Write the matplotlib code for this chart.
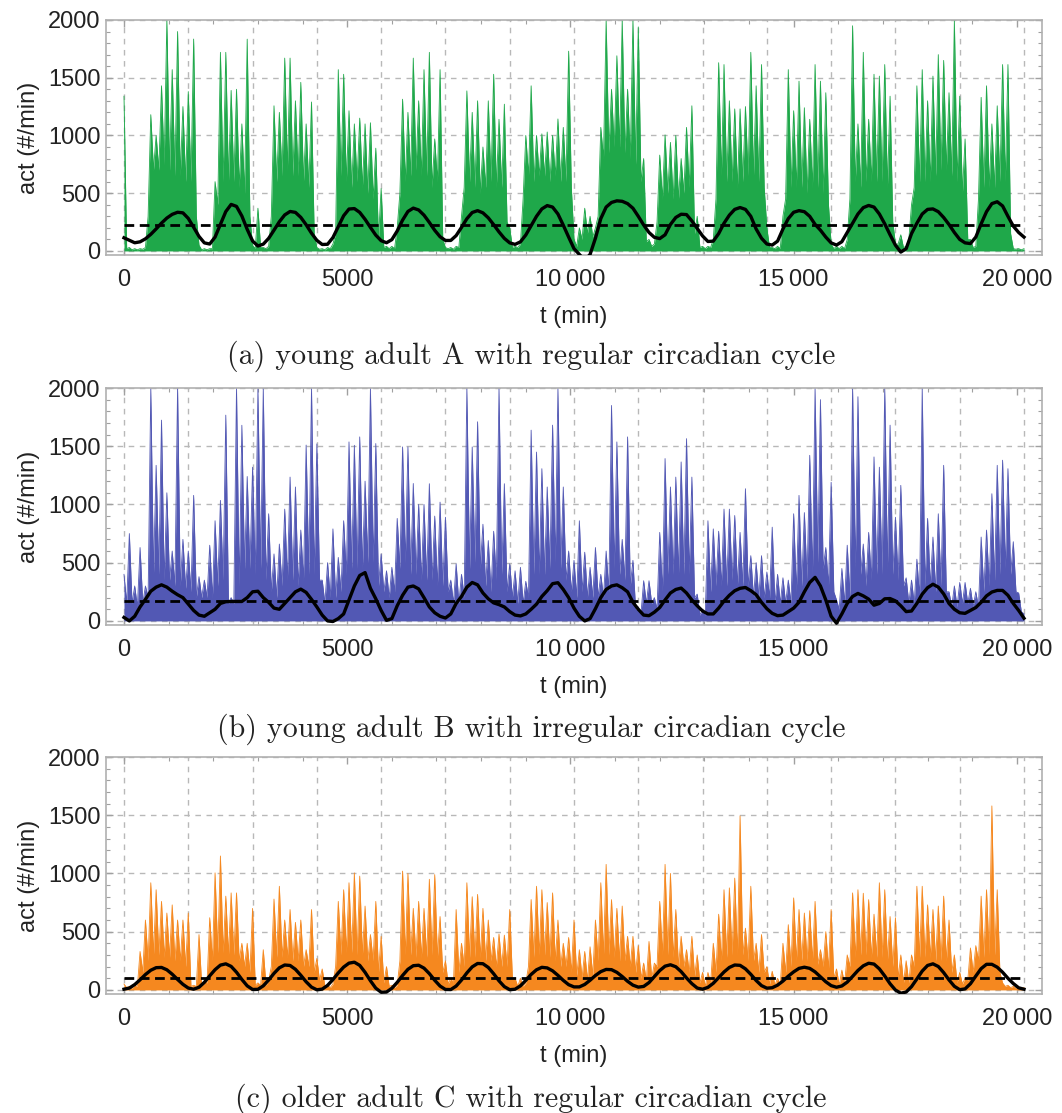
import numpy as np
import matplotlib
matplotlib.use("Agg")
import matplotlib.pyplot as plt
from matplotlib.ticker import MultipleLocator, FixedLocator

STEP = 120        # minutes between activity peaks; troughs sit halfway
DAY = 1440
T_END = 20160

# activity peaks (counts/min), one row per day, 12 samples a day
act_a = [
    1340, 30, 20, 20, 30, 1180, 1000, 1430, 2000, 1570, 1900, 1250,
    1380, 1835, 50, 20, 20, 600, 1720, 1720, 1390, 1400, 1100, 1834,
    50, 370, 30, 40, 1257, 1200, 1670, 1670, 1300, 1460, 1100, 1290,
    30, 20, 30, 60, 1570, 1530, 1214, 1100, 1150, 1100, 1110, 890,
    540, 40, 40, 200, 1314, 1200, 1670, 1300, 1570, 1720, 970, 1570,
    30, 30, 40, 300, 1386, 1200, 1300, 900, 1300, 1530, 1140, 1271,
    200, 40, 60, 1000, 1430, 1000, 1014, 1030, 1000, 1143, 1070, 1730,
    100, 200, 370, 300, 200, 1070, 2000, 1400, 1690, 2000, 1400, 2000,
    1940, 800, 100, 60, 830, 1005, 940, 1000, 800, 1070, 1257, 300,
    40, 40, 100, 1630, 1614, 1300, 1230, 1230, 1250, 1720, 1430, 1614,
    200, 30, 40, 300, 1570, 1214, 1470, 1240, 1140, 1614, 1470, 1370,
    60, 40, 40, 100, 1950, 1100, 1720, 1140, 1530, 1514, 1614, 1340,
    60, 140, 40, 400, 1430, 1570, 1300, 1514, 1700, 1650, 1370, 2000,
    1340, 970, 100, 40, 1330, 1430, 1100, 1257, 1614, 1614, 20, 20,
    20,
]
act_b = [
    400, 750, 300, 630, 300, 2000, 1336, 1724, 1100, 600, 2000, 700,
    600, 1078, 380, 350, 650, 860, 1035, 1767, 200, 2000, 1680, 1240,
    1320, 2000, 2000, 920, 575, 660, 960, 1235, 1150, 780, 1510, 2000,
    1520, 350, 500, 790, 545, 860, 1537, 1508, 1580, 1200, 2000, 1523,
    575, 430, 460, 880, 1494, 1494, 1180, 1000, 1000, 1178, 900, 1020,
    890, 350, 490, 400, 2000, 1494, 1710, 830, 690, 770, 2000, 1178,
    490, 430, 460, 340, 1638, 1450, 1307, 1150, 1681, 2000, 1150, 600,
    520, 860, 590, 460, 630, 400, 600, 1850, 1537, 700, 1580, 520,
    120, 345, 345, 200, 760, 1394, 1150, 1235, 1365, 1565, 1235, 230,
    100, 860, 790, 770, 960, 960, 905, 760, 1135, 560, 500, 560,
    420, 805, 400, 370, 350, 920, 1078, 930, 1422, 2000, 1900, 630,
    1190, 180, 450, 650, 2000, 1925, 660, 760, 1408, 1320, 2000, 1681,
    890, 1164, 370, 350, 530, 2000, 880, 720, 920, 1336, 250, 300,
    330, 330, 280, 250, 720, 780, 1092, 1336, 1380, 1307, 680, 240,
    60,
]
act_c = [
    50, 30, 40, 330, 600, 920, 860, 760, 660, 730, 600, 600,
    660, 40, 475, 80, 620, 1005, 1150, 805, 833, 833, 400, 400,
    700, 60, 345, 80, 780, 890, 600, 690, 580, 600, 345, 690,
    270, 180, 40, 50, 760, 860, 920, 1005, 977, 720, 475, 760,
    460, 200, 40, 40, 1020, 1000, 700, 760, 700, 950, 990, 630,
    250, 100, 690, 400, 920, 800, 820, 700, 600, 450, 480, 470,
    690, 100, 100, 60, 776, 890, 860, 750, 833, 600, 400, 450,
    600, 345, 330, 370, 600, 920, 1078, 775, 700, 720, 460, 460,
    380, 230, 416, 230, 760, 1078, 1000, 690, 460, 345, 460, 300,
    150, 150, 400, 650, 860, 876, 960, 1494, 530, 890, 400, 475,
    200, 160, 100, 400, 560, 790, 690, 660, 680, 760, 345, 500,
    690, 180, 170, 300, 833, 860, 830, 775, 650, 920, 860, 630,
    620, 300, 250, 300, 890, 890, 730, 690, 720, 805, 600, 300,
    150, 100, 360, 380, 805, 860, 1580, 860, 60, 40, 30, 20,
    20,
]

# troughs between consecutive peaks (60 min after each peak)
low_a = [
    20, 10, 10, 15, 300, 700, 700, 750, 700, 650, 650, 600,
    600, 300, 10, 10, 20, 400, 600, 600, 600, 550, 500, 300,
    20, 30, 20, 300, 600, 650, 700, 650, 650, 600, 550, 150,
    15, 10, 20, 150, 650, 600, 550, 600, 550, 500, 450, 100,
    30, 20, 20, 500, 600, 650, 700, 650, 650, 550, 600, 100,
    20, 15, 30, 550, 600, 550, 500, 550, 600, 550, 550, 250,
    30, 30, 450, 650, 600, 650, 650, 600, 650, 600, 600, 550,
    40, 100, 150, 120, 300, 800, 850, 900, 900, 850, 800, 750,
    600, 80, 40, 250, 450, 500, 450, 450, 500, 550, 150, 30,
    20, 30, 450, 650, 600, 600, 550, 600, 650, 650, 600, 550,
    30, 20, 20, 450, 550, 550, 550, 500, 550, 550, 500, 400,
    20, 20, 20, 450, 600, 550, 600, 600, 600, 600, 550, 250,
    60, 30, 100, 550, 600, 600, 600, 650, 700, 700, 650, 600,
    500, 100, 30, 450, 550, 550, 550, 600, 600, 150, 15, 10,
]
low_b = [
    150, 150, 120, 150, 200, 400, 400, 350, 350, 300, 300, 280,
    250, 200, 200, 200, 200, 300, 350, 150, 150, 300, 450, 450,
    400, 450, 350, 250, 200, 300, 350, 350, 300, 350, 400, 400,
    350, 150, 200, 200, 250, 400, 450, 450, 450, 500, 500, 300,
    250, 200, 250, 450, 500, 400, 400, 350, 350, 350, 300, 300,
    250, 150, 150, 200, 450, 500, 450, 300, 250, 350, 400, 250,
    200, 150, 150, 200, 400, 400, 400, 450, 500, 450, 350, 250,
    200, 250, 200, 200, 200, 200, 250, 450, 400, 350, 300, 100,
    60, 150, 150, 100, 250, 400, 400, 400, 400, 400, 200, 50,
    50, 250, 300, 300, 300, 350, 300, 300, 300, 200, 200, 200,
    200, 150, 150, 150, 150, 250, 300, 350, 400, 500, 450, 300,
    250, 100, 150, 200, 450, 400, 300, 350, 400, 400, 450, 400,
    350, 300, 150, 150, 200, 300, 300, 250, 300, 250, 120, 120,
    150, 150, 120, 120, 250, 300, 350, 400, 450, 400, 250, 80,
]
low_c = [
    20, 15, 30, 150, 250, 300, 300, 280, 280, 250, 250, 200,
    30, 30, 40, 60, 250, 320, 320, 300, 300, 250, 200, 150,
    40, 40, 40, 200, 280, 280, 280, 250, 250, 200, 200, 150,
    80, 30, 20, 200, 300, 320, 320, 300, 300, 250, 250, 150,
    60, 30, 20, 250, 300, 300, 280, 280, 280, 300, 280, 150,
    50, 60, 150, 200, 280, 280, 280, 250, 250, 200, 200, 200,
    100, 30, 30, 200, 280, 300, 300, 280, 250, 200, 200, 150,
    120, 100, 80, 120, 250, 300, 300, 280, 250, 250, 200, 150,
    100, 80, 100, 200, 300, 300, 280, 200, 200, 150, 120, 60,
    30, 60, 150, 250, 280, 300, 300, 300, 250, 250, 150, 150,
    50, 40, 40, 150, 200, 250, 250, 250, 250, 220, 200, 180,
    100, 40, 50, 200, 280, 300, 300, 280, 280, 280, 250, 200,
    100, 60, 60, 200, 280, 280, 280, 250, 250, 250, 150, 60,
    50, 80, 150, 250, 280, 300, 300, 150, 30, 20, 15, 10,
]

# smoothed circadian fit on the peak grid
trend_a = [
    114, 93, 71, 79, 105, 144, 191, 241, 285, 317, 335, 330,
    282, 205, 126, 70, 60, 120, 230, 341, 403, 386, 303, 187,
    86, 43, 59, 109, 180, 253, 312, 342, 334, 291, 227, 154,
    92, 56, 58, 116, 211, 305, 363, 367, 334, 274, 204, 137,
    89, 71, 98, 173, 267, 342, 371, 355, 310, 247, 179, 123,
    91, 91, 133, 204, 279, 333, 349, 330, 287, 228, 165, 109,
    70, 57, 79, 138, 219, 300, 364, 393, 380, 320, 223, 120,
    20, -30, -80, -30, 110, 280, 380, 420, 434, 430, 410, 370,
    300, 225, 160, 118, 107, 140, 229, 290, 318, 315, 260, 195,
    130, 82, 85, 150, 240, 310, 360, 376, 360, 300, 190, 110,
    60, 51, 85, 190, 280, 335, 349, 340, 300, 230, 180, 120,
    70, 51, 80, 160, 240, 320, 375, 394, 380, 320, 235, 140,
    50, -10, 20, 150, 240, 320, 360, 364, 340, 290, 229, 160,
    100, 70, 64, 120, 235, 340, 410, 426, 390, 300, 215, 160,
    120,
]
trend_b = [
    30, 0, 40, 120, 185, 255, 290, 310, 290, 255, 225, 200,
    145, 90, 50, 40, 70, 100, 150, 165, 167, 167, 167, 200,
    250, 255, 200, 160, 110, 100, 150, 200, 250, 273, 245, 185,
    120, 50, 0, -5, 20, 60, 180, 300, 390, 415, 280, 190,
    90, 5, 20, 130, 220, 290, 300, 275, 200, 120, 70, 40,
    25, 60, 150, 210, 290, 330, 310, 240, 190, 155, 140, 120,
    80, 50, 43, 60, 100, 144, 210, 260, 320, 328, 270, 200,
    110, 40, 0, 20, 105, 200, 270, 300, 310, 285, 250, 160,
    100, 50, 45, 75, 115, 180, 240, 270, 282, 240, 180, 130,
    85, 60, 60, 110, 170, 220, 259, 280, 287, 260, 225, 160,
    105, 65, 45, 50, 80, 110, 160, 250, 330, 374, 300, 180,
    40, -20, 60, 150, 210, 236, 215, 187, 135, 150, 190, 192,
    172, 130, 80, 85, 150, 230, 285, 315, 290, 232, 150, 100,
    70, 65, 90, 115, 160, 215, 248, 262, 262, 220, 150, 90,
    23,
]
trend_c = [
    6, 16, 46, 87, 132, 169, 191, 193, 173, 135, 90, 48,
    16, 6, 23, 65, 121, 174, 213, 224, 202, 152, 90, 35,
    4, 5, 35, 85, 142, 190, 214, 210, 177, 126, 70, 24,
    1, 7, 39, 89, 146, 196, 230, 238, 211, 151, 79, 15,
    -20, -18, 14, 65, 124, 177, 208, 212, 187, 140, 83, 33,
    4, 3, 33, 85, 146, 198, 227, 225, 193, 139, 78, 28,
    2, 6, 35, 82, 133, 173, 194, 189, 164, 125, 82, 45,
    26, 26, 47, 83, 124, 157, 176, 174, 151, 115, 74, 41,
    24, 30, 63, 114, 166, 204, 216, 199, 157, 103, 54, 16,
    6, 22, 57, 106, 154, 193, 214, 211, 181, 134, 81, 37,
    15, 19, 41, 76, 118, 155, 185, 195, 185, 155, 112, 70,
    37, 23, 34, 67, 116, 167, 207, 229, 222, 181, 120, 53,
    -1, -28, -18, 28, 94, 162, 210, 224, 201, 149, 86, 31,
    2, 9, 53, 119, 183, 220, 220, 195, 152, 100, 55, 18,
    6,
]

# mean activity level per subject
mean_a, mean_b, mean_c = 223, 170, 101

colors = ["#1fa84a", "#5258b4", "#f5881f"]
captions = [
    "(a) young adult A with regular circadian cycle",
    "(b) young adult B with irregular circadian cycle",
    "(c) older adult C with regular circadian cycle",
]
xtick_vals = [0, 5000, 10000, 15000, 20000]
xtick_labels = ["0", "5000", "10\u2009000", "15\u2009000", "20\u2009000"]
ytick_vals = [0, 500, 1000, 1500, 2000]

plt.rcParams["font.family"] = ["Liberation Sans", "DejaVu Sans"]

fig = plt.figure(figsize=(10.62, 11.13), dpi=100)

# axes boxes in pixels: (top, bottom)
boxes = [(20, 255), (388, 625), (757, 994)]
caption_px = [356, 729, 1099]
left_px, right_px = 106, 1042
W, H = 1062, 1113

panels = [
    (act_a, low_a, trend_a, mean_a),
    (act_b, low_b, trend_b, mean_b),
    (act_c, low_c, trend_c, mean_c),
]

for (act, low, trend, mean), color, cap, (top, bot), cy in zip(
        panels, colors, captions, boxes, caption_px):
    ax = fig.add_axes([left_px / W, 1 - bot / H, (right_px - left_px) / W, (bot - top) / H])

    # alternate peaks and troughs into one jagged trace
    t_peak = np.arange(len(act)) * STEP
    t_zig = np.append(np.column_stack([t_peak[:-1], t_peak[:-1] + STEP // 2]).ravel(), t_peak[-1])
    v_zig = np.append(np.column_stack([act[:-1], low]).ravel(), act[-1])

    ax.fill_between(t_zig, 0, v_zig, color=color, lw=0, zorder=2)
    ax.plot(t_zig, v_zig, color=color, lw=0.6, zorder=2)

    ax.hlines(mean, 0, T_END, color="black", lw=2, ls=(0, (3.5, 2)), zorder=4)
    ax.plot(np.arange(len(trend)) * STEP, trend, color="black", lw=2.4,
            zorder=5, solid_joinstyle="round")

    ax.set_xlim(-403, 20563)
    ax.set_ylim(-35, 2000)

    # day gridlines and count gridlines
    for d in range(15):
        ax.axvline(d * DAY, color="#b8b8b8", lw=1, ls=(0, (4, 4)), zorder=1)
    for yv in ytick_vals:
        ax.axhline(yv, color="#b8b8b8", lw=1, ls=(0, (4, 4)), zorder=1)

    ax.xaxis.set_major_locator(FixedLocator(xtick_vals))
    ax.set_xticklabels(xtick_labels)
    ax.xaxis.set_minor_locator(MultipleLocator(1000))
    ax.yaxis.set_major_locator(FixedLocator(ytick_vals))
    ax.yaxis.set_minor_locator(MultipleLocator(100))
    ax.tick_params(which="both", direction="in", top=True, right=True,
                   color="#a0a0a0", labelsize=17, labelcolor="#222222")
    ax.tick_params(axis="x", pad=10)
    ax.tick_params(axis="y", pad=4)
    ax.tick_params(which="major", length=5, width=1)
    ax.tick_params(which="minor", length=3, width=0.8)
    for s in ax.spines.values():
        s.set_color("#b0b0b0")
        s.set_linewidth(1.2)

    ax.set_ylabel("act (#/min)", fontsize=17, color="#222222", labelpad=6)
    ax.set_xlabel("t (min)", fontsize=17, color="#222222", labelpad=11)

    fig.text(0.5, 1 - cy / H, cap, ha="center", va="center", fontsize=21.5,
             family="cmr10", color="#222222")

fig.savefig("out.png", dpi=100)
